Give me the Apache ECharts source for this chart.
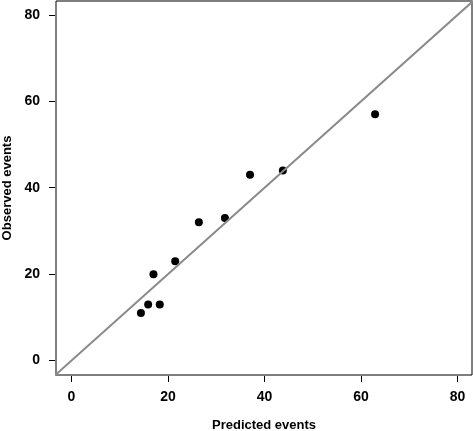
<!DOCTYPE html>
<html>
<head>
<meta charset="utf-8">
<script src="https://cdn.jsdelivr.net/npm/echarts@6/dist/echarts.min.js"></script>
<style>
html,body{margin:0;padding:0;background:#fff;}
#chart{width:473px;height:431px;}
</style>
</head>
<body>
<div id="chart"></div>
<script>
// predicted vs observed events
var predicted = [14.4, 15.9, 18.3, 17.0, 21.5, 26.4, 31.8, 37.0, 43.8, 62.9];
var observed = [11, 13, 13, 20, 23, 32, 33, 43, 44, 57];
var xTicks = [0, 20, 40, 60, 80];
var yTicks = [0, 20, 40, 60, 80];
var refLine = [[-10, -10], [100, 100]];

var points = [];
for(var i = 0;i<predicted.length;i++){
	points.push([predicted[i], observed[i]]);
}

var font = 'Liberation Sans, Arial, sans-serif';
var chart = echarts.init(document.getElementById('chart'));
chart.setOption({
	animation:false,
	grid:{
		left:56,right:1,top:1,bottom:56,
		outerBoundsMode:'none',containLabel:false,
		show:true,borderColor:'#000',borderWidth:1,backgroundColor:'#fff'
	},
	xAxis:{
		type:'value',min:-3.19,max:82.98,offset:1,
		splitLine:{show:false},
		axisLine:{show:false,onZero:false},
		axisTick:{show:true,inside:false,length:6,customValues:xTicks,lineStyle:{color:'#000'}},
		axisLabel:{customValues:xTicks,margin:14,color:'#000',fontFamily:font,fontSize:14,fontWeight:'bold'},
		name:'Predicted events',nameLocation:'middle',nameGap:43,
		nameTextStyle:{color:'#000',fontFamily:font,fontSize:13,fontWeight:'bold'}
	},
	yAxis:{
		type:'value',min:-3.33,max:83.2,offset:1,
		splitLine:{show:false},
		axisLine:{show:false,onZero:false},
		axisTick:{show:true,inside:false,length:6,customValues:yTicks,lineStyle:{color:'#000'}},
		axisLabel:{customValues:yTicks,margin:15,color:'#000',fontFamily:font,fontSize:14,fontWeight:'bold'},
		name:'Observed events',nameLocation:'middle',nameGap:40,nameRotate:90,
		nameTextStyle:{color:'#000',fontFamily:font,fontSize:13,fontWeight:'bold'}
	},
	series:[
		{
			type:'line',data:refLine,clip:true,symbol:'none',silent:true,
			lineStyle:{color:'#8a8a8a',width:2}
		},
		{
			type:'scatter',data:points,symbol:'circle',symbolSize:8,
			itemStyle:{color:'#000',opacity:1}
		}
	]
});
</script>
</body>
</html>
